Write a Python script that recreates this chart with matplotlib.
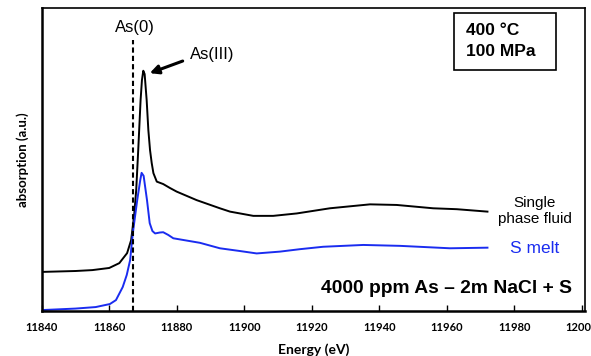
import matplotlib
matplotlib.use("Agg")
import matplotlib.pyplot as plt
from matplotlib.patches import Rectangle

# ---- data ----
energy_fluid = [11840, 11850, 11855, 11860, 11863, 11865.3, 11866.5, 11867.4, 11868.0,
                11868.6, 11869.3, 11869.7, 11870.1, 11870.5, 11871.1, 11871.6, 11872.1,
                11872.6, 11873.1, 11874.1, 11876, 11878, 11880.0, 11885.9, 11892.8,
                11895.8, 11902.7, 11908.6, 11915.6, 11925.4, 11937.3, 11945.2, 11956.0,
                11963.0, 11972.1]
absorb_fluid = [0.129, 0.132, 0.135, 0.142, 0.158, 0.191, 0.234, 0.317, 0.399,
                0.531, 0.696, 0.762, 0.793, 0.782, 0.696, 0.597, 0.531,
                0.488, 0.455, 0.427, 0.419, 0.406, 0.394, 0.366, 0.339,
                0.328, 0.314, 0.314, 0.322, 0.339, 0.352, 0.350, 0.339,
                0.336, 0.328]

energy_melt = [11840, 11850, 11856, 11860.2, 11862, 11864, 11865.2, 11866.2, 11867,
               11868.3, 11869.2, 11869.6, 11870.2, 11871.2, 11872, 11872.8, 11873.6,
               11875, 11876.0, 11877.5, 11879.0, 11886.9, 11892.8, 11898.7, 11903.7,
               11910.6, 11916.5, 11923.4, 11935.3, 11946.2, 11961.0, 11972.1]
absorb_melt = [0.003, 0.008, 0.013, 0.023, 0.036, 0.079, 0.119, 0.168, 0.257,
               0.366, 0.432, 0.456, 0.446, 0.366, 0.290, 0.264, 0.256,
               0.259, 0.260, 0.251, 0.240, 0.225, 0.207, 0.198, 0.190,
               0.196, 0.204, 0.212, 0.218, 0.215, 0.207, 0.209]

as0_energy = 11867.1
as3_peak = (11872.0, 0.785)
xticks = [11840, 11860, 11880, 11900, 11920, 11940, 11960, 11980, 12000]

# ---- figure ----
fig = plt.figure(figsize=(5.91, 3.56), dpi=100)
ax = fig.add_axes([0.0706, 0.1264, 0.9192, 0.8511])

ax.plot(energy_fluid, absorb_fluid, color="black", lw=1.4, solid_joinstyle="round")
ax.plot(energy_melt, absorb_melt, color="#1a2cf0", lw=1.4, solid_joinstyle="round")
ax.plot([as0_energy, as0_energy], [0, 0.894], color="black", lw=1.5, dashes=(2.5, 1.5))

ax.set_xlim(11840, 12001)
ax.set_ylim(0, 1)
ax.set_xticks(xticks)
ax.set_xticklabels([str(t) for t in xticks])
ax.set_yticks([])
ax.tick_params(axis="x", direction="in", length=4, width=1, pad=8)
for lab in ax.get_xticklabels():
    lab.set_fontfamily("Lato")
    lab.set_fontweight("bold")
    lab.set_fontsize(8)
for s in ax.spines.values():
    s.set_linewidth(1.2)
ax.spines["left"].set_linewidth(1.8)
ax.spines["bottom"].set_linewidth(1.8)

ax.set_xlabel("Energy (eV)", fontfamily="Lato", fontweight="bold", fontsize=10, labelpad=7)
ax.set_ylabel("absorption (a.u.)", fontfamily="Lato", fontweight="bold", fontsize=9.5, labelpad=9)

af = "Liberation Sans"
ax.text(0.172, 0.937, "As(0)", transform=ax.transAxes, ha="center", va="center",
        fontsize=12, family=af)
ax.text(0.313, 0.845, "As(III)", transform=ax.transAxes, ha="center", va="center",
        fontsize=12, family=af)
ax.annotate("", xy=as3_peak, xycoords="data", xytext=(0.2595, 0.825),
            textcoords="axes fraction",
            arrowprops=dict(arrowstyle="-|>", color="black", lw=2.2, mutation_scale=13,
                            shrinkA=0, shrinkB=0))

ax.add_patch(Rectangle((0.759, 0.795), 0.1885, 0.188, transform=ax.transAxes,
                       fill=False, edgecolor="black", lw=1.2))
ax.text(0.781, 0.927, "400 °C", transform=ax.transAxes, ha="left", va="center",
        fontsize=12.5, fontweight="bold", family=af)
ax.text(0.781, 0.855, "100 MPa", transform=ax.transAxes, ha="left", va="center",
        fontsize=12.5, fontweight="bold", family=af)

ax.text(0.908, 0.330, "Single\nphase fluid", transform=ax.transAxes, ha="center",
        va="center", fontsize=11, family=af, linespacing=1.15)
ax.text(0.908, 0.205, "S melt", transform=ax.transAxes, ha="center", va="center",
        fontsize=12.5, family=af, color="#1a2cf0")
ax.text(0.9754, 0.075, "4000 ppm As \u2013 2m NaCl + S", transform=ax.transAxes,
        ha="right", va="center", fontsize=13.9, fontweight="bold", family=af)

fig.savefig("out.png", dpi=100)
